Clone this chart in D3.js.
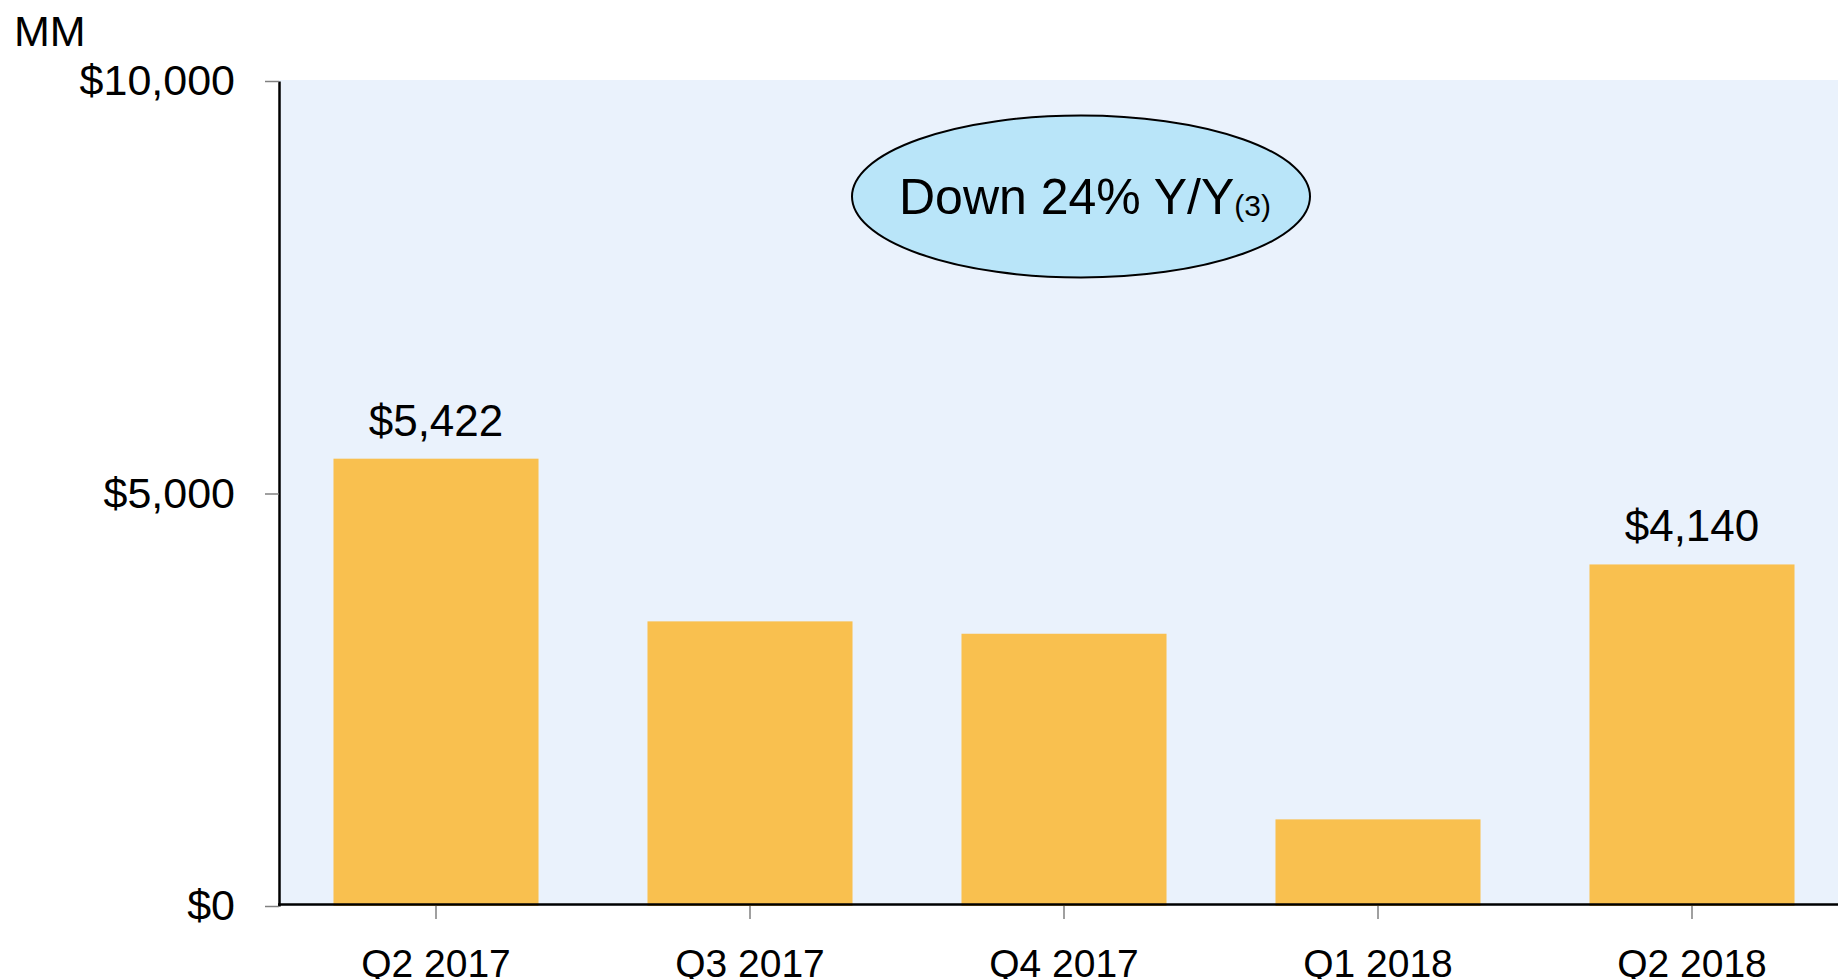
<!DOCTYPE html>
<html>
<head>
<meta charset="utf-8">
<script src="https://cdn.jsdelivr.net/npm/d3@7"></script>
<style>
  html, body { margin: 0; padding: 0; background: #ffffff; overflow: hidden; }
  svg { display: block; font-family: "Liberation Sans", Arial, Helvetica, sans-serif; }
</style>
</head>
<body>
<svg id="chart" width="1838" height="979"></svg>
<script>
// ---- data ----
const categories = ["Q2 2017", "Q3 2017", "Q4 2017", "Q1 2018", "Q2 2018"];
const values = [5422, 3450, 3300, 1050, 4140];
const showLabel = [true, false, false, false, true];
const yTicks = [0, 5000, 10000];
const unitLabel = "MM";
const noteText = "Down 24% Y/Y";
const noteRef = "(3)";

// ---- layout ----
const W = 1838, H = 979;
const plotLeft = 279, plotTop = 81, plotBottom = 906, plotRight = 1849;

const svg = d3.select("#chart");

const x = d3.scaleBand()
  .domain(categories)
  .range([plotLeft, plotRight])
  .paddingInner(0.347)
  .paddingOuter(0.1735);

const y = d3.scaleLinear()
  .domain([0, 10000])
  .range([plotBottom, plotTop]);

// plot background
svg.append("rect")
  .attr("x", plotLeft).attr("y", plotTop - 1)
  .attr("width", W - plotLeft).attr("height", plotBottom - plotTop + 1)
  .attr("fill", "#eaf2fc");

// bars
svg.append("g").selectAll("rect")
  .data(values)
  .join("rect")
  .attr("x", (d, i) => x(categories[i]))
  .attr("y", d => y(d))
  .attr("width", x.bandwidth())
  .attr("height", d => y(0) - y(d))
  .attr("fill", "#f9c04f");

// value labels
svg.append("g").selectAll("text")
  .data(values.map((v, i) => ({v, i})).filter(d => showLabel[d.i]))
  .join("text")
  .attr("x", d => x(categories[d.i]) + x.bandwidth() / 2)
  .attr("y", d => y(d.v) - 23)
  .attr("text-anchor", "middle")
  .attr("font-size", 44)
  .attr("fill", "#000")
  .text(d => "$" + d3.format(",")(d.v));

// y axis
const yAxis = svg.append("g")
  .attr("transform", `translate(${plotLeft},0)`)
  .call(d3.axisLeft(y)
    .tickValues(yTicks)
    .tickFormat(d => "$" + d3.format(",")(d))
    .tickSize(14)
    .tickSizeOuter(0)
    .tickPadding(30));
yAxis.select(".domain").attr("stroke", "#000").attr("stroke-width", 2.5);
yAxis.selectAll(".tick line").attr("stroke", "#808080").attr("stroke-width", 1.5);
yAxis.selectAll(".tick text")
  .attr("font-size", 43)
  .attr("font-family", "Liberation Sans, Arial, sans-serif")
  .attr("fill", "#000");

// x axis
const xAxis = svg.append("g")
  .attr("transform", `translate(0,${plotBottom})`)
  .call(d3.axisBottom(x)
    .tickSize(13)
    .tickSizeOuter(0)
    .tickPadding(30));
xAxis.select(".domain").remove();
xAxis.selectAll(".tick line").attr("stroke", "#808080").attr("stroke-width", 1.5);
xAxis.selectAll(".tick text")
  .attr("font-size", 39)
  .attr("font-family", "Liberation Sans, Arial, sans-serif")
  .attr("fill", "#000");

// baseline
svg.append("line")
  .attr("x1", plotLeft - 1).attr("x2", W)
  .attr("y1", y(0) - 1.5).attr("y2", y(0) - 1.5)
  .attr("stroke", "#000").attr("stroke-width", 2.5);

// unit label
svg.append("text")
  .attr("x", 14).attr("y", 46)
  .attr("font-size", 43)
  .attr("fill", "#000")
  .text(unitLabel);

// annotation ellipse
const cx = x("Q4 2017") + x.bandwidth() / 2 + 17;
const cy = y(8600);
svg.append("ellipse")
  .attr("cx", cx).attr("cy", cy)
  .attr("rx", 229).attr("ry", 81)
  .attr("fill", "#b9e5f9")
  .attr("stroke", "#000")
  .attr("stroke-width", 2);
const note = svg.append("text")
  .attr("x", cx + 4).attr("y", cy + 17)
  .attr("text-anchor", "middle")
  .attr("fill", "#000");
note.append("tspan").attr("font-size", 50).text(noteText);
note.append("tspan").attr("font-size", 30).attr("dy", 2).text(noteRef);
</script>
</body>
</html>
